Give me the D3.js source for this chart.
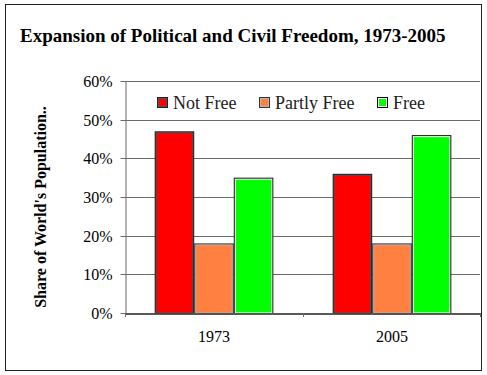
<!DOCTYPE html>
<html>
<head>
<meta charset="utf-8">
<script src="https://cdn.jsdelivr.net/npm/d3@7"></script>
<style>
  body { margin: 0; background: #fff; }
  svg text { font-family: "Liberation Serif", "Times New Roman", serif; }
</style>
</head>
<body>
<svg id="chart" width="487" height="375"></svg>
<script>
const years = ["1973", "2005"];
const seriesNames = ["Not Free", "Partly Free", "Free"];
const notFree = [47, 36];
const partlyFree = [18, 18];
const free = [35, 46];
const yTicks = [0, 10, 20, 30, 40, 50, 60];

// fill, outer edge, inner edge
const styles = {
  "Not Free":    { fill: "#ff0000", outer: "#222", inner: "#555" },
  "Partly Free": { fill: "#ff8040", outer: "#333", inner: "#b8b8b8" },
  "Free":        { fill: "#00ff00", outer: "#111", inner: "#fff" }
};

const serif = "'Liberation Serif', 'Times New Roman', serif";
const width = 487, height = 375;
const margin = { top: 81, right: 6, bottom: 62, left: 125 };

const rows = years.map((y, i) => ({
  year: y,
  values: [notFree[i], partlyFree[i], free[i]]
}));

const svg = d3.select("#chart");

svg.append("rect")
  .attr("x", 5.5).attr("y", 4.5)
  .attr("width", 476).attr("height", 366)
  .attr("fill", "#fff").attr("stroke", "#222").attr("stroke-width", 1);

const x0 = d3.scaleBand().domain(years).range([margin.left, width - margin.right]).paddingInner(0).paddingOuter(0);
const x1 = d3.scaleBand().domain(seriesNames).range([0, x0.bandwidth()]).paddingOuter(0.75);
const y = d3.scaleLinear().domain([0, 60]).range([height - margin.bottom, margin.top]);

// gridlines
svg.append("g")
  .selectAll("line")
  .data(yTicks.slice(1))
  .join("line")
  .attr("x1", margin.left).attr("x2", width - margin.right - 1)
  .attr("y1", d => Math.round(y(d)) + 0.5).attr("y2", d => Math.round(y(d)) + 0.5)
  .attr("stroke", "#6a6a6a");

// y axis
const yAxis = svg.append("g")
  .attr("transform", `translate(${margin.left + 0.5},0)`)
  .call(d3.axisLeft(y).tickValues(yTicks).tickFormat(d => d + "%").tickSize(5).tickSizeOuter(0));
yAxis.select(".domain").attr("stroke", "#6a6a6a");
yAxis.selectAll(".tick line").attr("stroke", "#6a6a6a");
yAxis.selectAll(".tick").attr("transform", d => `translate(0,${Math.round(y(d)) + 0.5})`);
yAxis.selectAll("text")
  .attr("x", -13)
  .attr("dy", "0.36em")
  .style("font-family", serif)
  .style("font-size", "16px")
  .attr("fill", "#000");

// bars
const groups = svg.append("g")
  .selectAll("g")
  .data(rows)
  .join("g")
  .attr("transform", d => `translate(${x0(d.year)},0)`);

const bars = groups.selectAll("g")
  .data(d => d.values.map((v, i) => ({ name: seriesNames[i], value: v })))
  .join("g");

bars.append("rect")
  .attr("x", d => x1(d.name))
  .attr("y", d => y(d.value))
  .attr("width", x1.bandwidth())
  .attr("height", d => y(0) - y(d.value))
  .attr("fill", d => styles[d.name].outer);

bars.append("rect")
  .attr("x", d => x1(d.name) + 1.5)
  .attr("y", d => y(d.value) + 1.5)
  .attr("width", x1.bandwidth() - 3)
  .attr("height", d => y(0) - y(d.value) - 1.5)
  .attr("fill", d => styles[d.name].fill)
  .attr("stroke", d => styles[d.name].inner)
  .attr("stroke-width", 1);

// x axis
const xAxis = svg.append("g")
  .attr("transform", `translate(0,${Math.round(y(0)) + 0.5})`)
  .call(d3.axisBottom(x0).tickSize(0).tickSizeOuter(0));
xAxis.select(".domain").attr("stroke", "#222").attr("stroke-width", 1.5);
xAxis.selectAll("text")
  .attr("dy", "1.6em")
  .style("font-family", serif)
  .style("font-size", "16px")
  .attr("fill", "#000");

// category separators
svg.append("g")
  .selectAll("line")
  .data([x0(years[0]), x0(years[1]), width - margin.right - 1])
  .join("line")
  .attr("x1", d => Math.round(d) + 0.5).attr("x2", d => Math.round(d) + 0.5)
  .attr("y1", y(0)).attr("y2", y(0) + 4)
  .attr("stroke", "#6a6a6a");

// legend
const legend = svg.append("g").attr("transform", "translate(157,97)");
const legendX = [0, 102, 220];
const items = legend.selectAll("g")
  .data(seriesNames)
  .join("g")
  .attr("transform", (d, i) => `translate(${legendX[i]},0)`);
items.append("rect")
  .attr("width", 11).attr("height", 11)
  .attr("fill", d => styles[d].outer);
items.append("rect")
  .attr("x", 1.5).attr("y", 1.5).attr("width", 8).attr("height", 8)
  .attr("fill", d => styles[d].fill)
  .attr("stroke", d => styles[d].inner);
items.append("text")
  .attr("x", 16).attr("y", 11.5)
  .style("font-family", serif)
  .style("font-size", "18px")
  .attr("fill", "#222")
  .text(d => d);

// title
svg.append("text")
  .attr("x", 20).attr("y", 42)
  .style("font-family", serif)
  .style("font-size", "19px")
  .attr("font-weight", "bold")
  .text("Expansion of Political and Civil Freedom, 1973-2005");

// y axis title
svg.append("text")
  .attr("transform", `translate(46,${(y(0) + y(60)) / 2 + 10}) rotate(-90)`)
  .attr("text-anchor", "middle")
  .style("font-family", serif)
  .style("font-size", "16px")
  .attr("font-weight", "bold")
  .text("Share of World's Population..");
</script>
</body>
</html>
